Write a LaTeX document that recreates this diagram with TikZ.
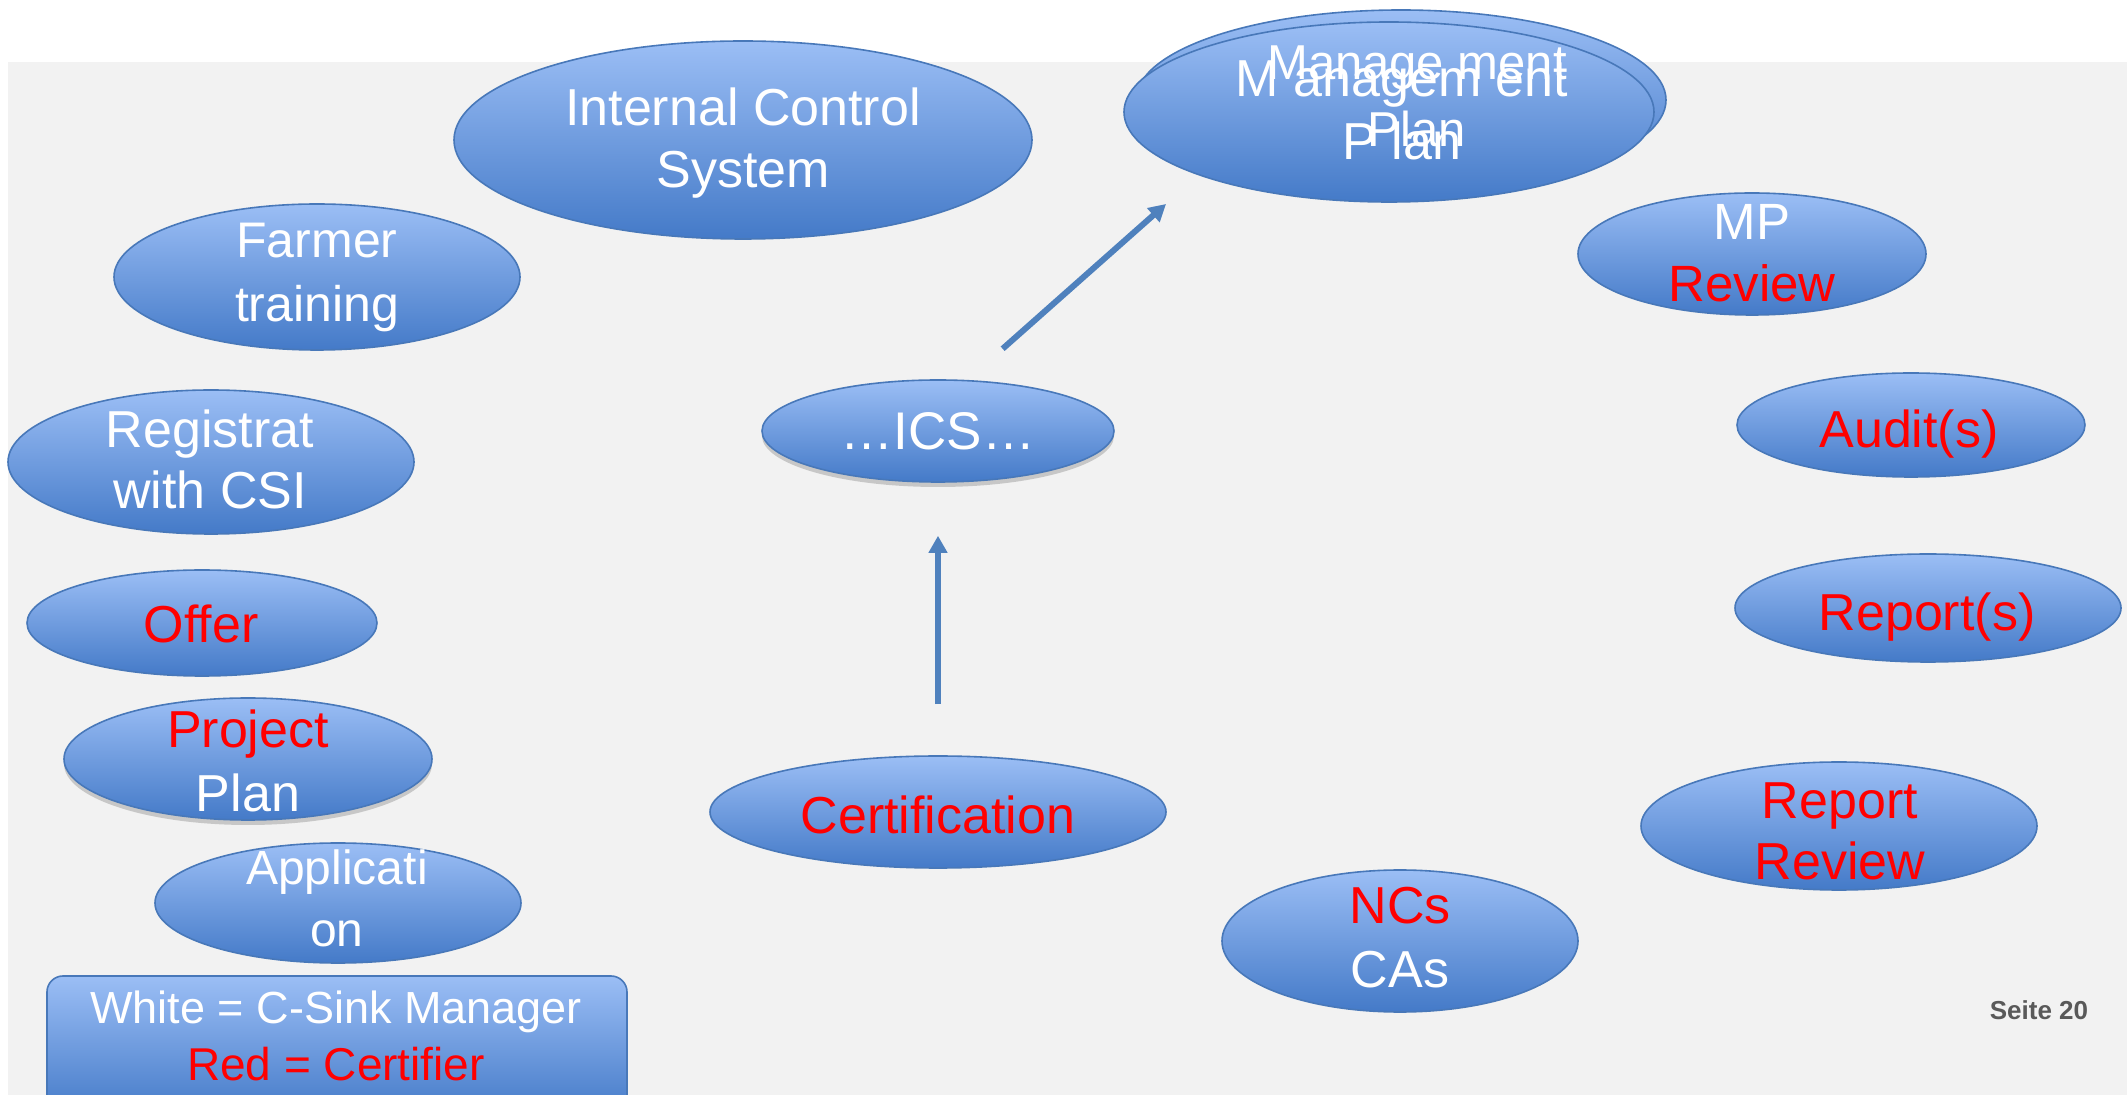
\documentclass[tikz,border=0pt]{standalone}
\usepackage{fontspec}
\setmainfont{Liberation Sans}
\usetikzlibrary{shapes.geometric,arrows.meta,shadows}
\definecolor{bggray}{RGB}{242,242,242}
\definecolor{bubtop}{RGB}{155,190,245}
\definecolor{bubbot}{RGB}{68,122,200}
\definecolor{bubline}{RGB}{72,120,185}
\definecolor{arrowblue}{RGB}{79,129,189}
\definecolor{seitegray}{RGB}{89,89,89}
\tikzset{
  bubble/.style 2 args={ellipse, draw=bubline, line width=0.8pt, top color=bubtop, bottom color=bubbot,
    inner sep=0pt, minimum width=#1pt, minimum height=#2pt},
  shadowed/.style={drop shadow={shadow xshift=0pt, shadow yshift=-2.5pt, opacity=0.3, fill=black!60}},
  txt/.style={text=white, align=center, anchor=base, font=\fontsize{26}{31}\selectfont},
  flow/.style={draw=arrowblue, line width=3pt, -{Triangle[width=9pt,length=8.5pt]}},
}

\begin{document}
\begin{tikzpicture}[x=0.5pt,y=-0.5pt]
    \useasboundingbox (0,0) rectangle (2127,1095);
    \fill[bggray] (8,62) rectangle (2127,1095);

    % left column
    \node[bubble={289}{99}] (icsys) at (743,140) {};
    \node[bubble={203}{73}] (farmer) at (317,277) {};
    \node[bubble={203}{72}] (regis) at (211,462) {};
    \node[bubble={175}{53}] (offer) at (202,623) {};
    \node[bubble={184}{61}, shadowed] (projplan) at (248,759) {};
    \node[bubble={183}{60}] (appl) at (338,903) {};
    \node[rectangle, rounded corners=8pt, draw=bubline, line width=0.8pt, top color=bubtop, bottom color=bubbot,
        minimum width=290pt, minimum height=70pt] (legend) at (337,1046) {};

    % middle
    \node[bubble={176}{51}, shadowed] (ics) at (938,431) {};
    \node[bubble={228}{56}] (cert) at (938,812) {};
    \node[bubble={265}{90}] (mgmtback) at (1401,100) {};
    \node[bubble={265}{90}] (mgmt) at (1389,112) {};
    \node[bubble={178}{71}] (ncs) at (1400,941) {};

    % right column
    \node[bubble={174}{61}] (mprev) at (1752,254) {};
    \node[bubble={174}{52}] (audit) at (1911,425) {};
    \node[bubble={193}{54}] (reports) at (1928,608) {};
    \node[bubble={198}{64}] (reprev) at (1839,826) {};

    % texts (anchor base = last line)
    \node[txt] at (743,188) {Internal Control\\System};
    \node[txt, font=\fontsize{25}{32}\selectfont] at (317,322) {Farmer\\training};
    \node[txt, font=\fontsize{26}{30.5}\selectfont] at (210,509) {Registrat\\with CSI};
    \node[txt, text=red] at (201,643) {Offer};
    \node[txt, font=\fontsize{26}{32}\selectfont] at (248,812) {\textcolor{red}{Project}\\Plan};
    \node[txt, font=\fontsize{24}{31}\selectfont] at (337,947) {Applicati\\on};
    \node[txt, font=\fontsize{22.5}{28.5}\selectfont] at (336,1080)
        {White = C-Sink Manager\\\textcolor{red}{\fontsize{23}{28.5}\selectfont Red = Certifier}};
    \node[txt, font=\fontsize{26.5}{31}\selectfont] at (938,450) {…ICS…};
    \node[txt, text=red] at (938,834) {Certification};
    \node[txt, font=\fontsize{24.5}{33.5}\selectfont] at (1417,147) {Manage ment\\Plan};
    \node[txt, font=\fontsize{26}{31.5}\selectfont] at (1402,160) {M anagem ent\\P lan};
    \node[txt, font=\fontsize{26}{32}\selectfont] at (1400,987) {\textcolor{red}{NCs}\\CAs};
    \node[txt, font=\fontsize{25.5}{31}\selectfont] at (1752,302) {MP\\\textcolor{red}{Review}};
    \node[txt, text=red] at (1909,448) {Audit(s)};
    \node[txt, text=red] at (1927,631) {Report(s)};
    \node[txt, text=red, font=\fontsize{26}{30.5}\selectfont] at (1840,880) {Report\\Review};
    \node[anchor=base, text=seitegray, font=\bfseries\fontsize{13}{15}\selectfont] (seite) at (2039,1020) {Seite 20};

    % arrows
    \coordinate (mptip) at (1166,204);
    \draw[flow, shorten <=25.5pt, shorten >=26.5pt] (cert.north) -- (ics.south);
    \draw[flow, shorten <=23.5pt] (ics.60) -- (mptip);
\end{tikzpicture}
\end{document}
